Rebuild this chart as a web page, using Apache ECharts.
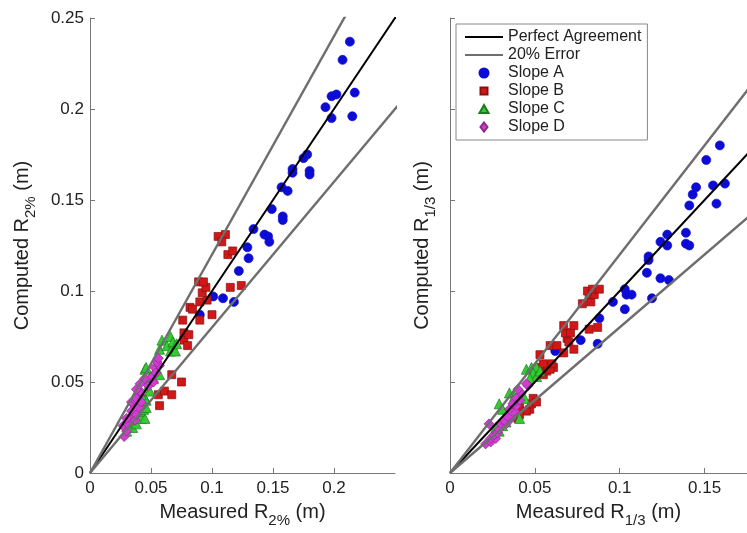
<!DOCTYPE html>
<html>
<head>
<meta charset="utf-8">
<script src="https://cdn.jsdelivr.net/npm/echarts@6/dist/echarts.min.js"></script>
<style>
html, body { margin: 0; padding: 0; background: #fff; }
#chart { width: 747px; height: 533px; }
</style>
</head>
<body>
<div id="chart"></div>
<script>
// measured vs computed run-up, [measured, computed] in m
// left panel: R2%
var slopeA_r2 = [
    [0.090,0.087],[0.101,0.097],[0.109,0.096],[0.118,0.094],[0.122,0.111],[0.130,0.118],[0.129,0.124],
    [0.134,0.134],[0.143,0.131],[0.146,0.130],[0.147,0.127],[0.149,0.145],[0.157,0.157],[0.162,0.155],
    [0.158,0.141],[0.158,0.139],[0.166,0.167],[0.166,0.165],[0.175,0.173],[0.178,0.175],[0.180,0.166],
    [0.180,0.164],[0.193,0.201],[0.198,0.207],[0.202,0.208],[0.198,0.195],[0.207,0.227],[0.213,0.237],
    [0.217,0.209],[0.215,0.196]
];
var slopeB_r2 = [
    [0.057,0.037],[0.056,0.043],[0.061,0.045],[0.067,0.043],[0.067,0.054],[0.075,0.050],[0.077,0.073],
    [0.080,0.070],[0.077,0.077],[0.081,0.076],[0.076,0.084],[0.090,0.084],[0.100,0.087],[0.082,0.091],
    [0.084,0.090],[0.090,0.094],[0.096,0.095],[0.092,0.099],[0.095,0.102],[0.089,0.105],[0.093,0.105],
    [0.115,0.102],[0.124,0.103],[0.113,0.120],[0.117,0.122],[0.105,0.130],[0.111,0.131],[0.108,0.127]
];
var slopeC_r2 = [
    [0.030,0.023],[0.035,0.025],[0.034,0.028],[0.038,0.027],[0.042,0.030],[0.045,0.030],[0.041,0.034],
    [0.044,0.035],[0.046,0.036],[0.046,0.040],[0.045,0.041],[0.038,0.044],[0.042,0.043],[0.047,0.047],
    [0.049,0.045],[0.049,0.052],[0.052,0.052],[0.045,0.057],[0.046,0.058],[0.053,0.056],[0.057,0.054],
    [0.057,0.068],[0.059,0.073],[0.063,0.070],[0.066,0.075],[0.068,0.072],[0.066,0.067],[0.070,0.067],
    [0.071,0.071]
];
var slopeD_r2 = [
    [0.028,0.020],[0.030,0.023],[0.027,0.026],[0.031,0.027],[0.033,0.030],[0.037,0.029],[0.030,0.030],
    [0.034,0.034],[0.038,0.032],[0.035,0.038],[0.040,0.036],[0.034,0.039],[0.037,0.040],[0.042,0.039],
    [0.041,0.043],[0.038,0.041],[0.041,0.045],[0.038,0.046],[0.041,0.049],[0.045,0.052],[0.048,0.048],
    [0.052,0.050],[0.051,0.053],[0.053,0.058],[0.054,0.055],[0.057,0.059],[0.055,0.061],[0.056,0.063]
];
// right panel: R1/3
var slopeA_r13 = [
    [0.062,0.067],[0.077,0.073],[0.087,0.071],[0.088,0.085],[0.096,0.094],[0.103,0.090],[0.103,0.101],
    [0.104,0.098],[0.107,0.098],[0.119,0.096],[0.116,0.110],[0.124,0.107],[0.129,0.106],[0.117,0.119],
    [0.117,0.117],[0.124,0.127],[0.128,0.125],[0.128,0.131],[0.139,0.132],[0.139,0.126],[0.141,0.125],
    [0.141,0.147],[0.143,0.153],[0.145,0.157],[0.151,0.172],[0.159,0.180],[0.155,0.158],[0.162,0.159],
    [0.157,0.148]
];
var slopeB_r13 = [
    [0.040,0.030],[0.041,0.036],[0.047,0.035],[0.045,0.034],[0.041,0.032],[0.048,0.038],[0.049,0.041],
    [0.051,0.039],[0.055,0.054],[0.057,0.056],[0.053,0.058],[0.057,0.059],[0.061,0.058],[0.059,0.057],
    [0.053,0.065],[0.055,0.060],[0.060,0.060],[0.059,0.070],[0.063,0.070],[0.067,0.066],[0.073,0.068],
    [0.069,0.074],[0.070,0.072],[0.068,0.077],[0.071,0.077],[0.067,0.081],[0.073,0.081],[0.082,0.079],
    [0.087,0.080],[0.078,0.093],[0.083,0.094],[0.082,0.098],[0.085,0.098],[0.081,0.100],[0.084,0.101],
    [0.088,0.101]
];
var slopeC_r13 = [
    [0.027,0.025],[0.029,0.023],[0.031,0.026],[0.033,0.028],[0.032,0.030],[0.041,0.030],[0.029,0.038],
    [0.031,0.035],[0.035,0.044],[0.038,0.042],[0.042,0.042],[0.044,0.041],[0.045,0.057],[0.048,0.058],
    [0.051,0.058],[0.049,0.055],[0.051,0.053],[0.047,0.052],[0.053,0.056]
];
var slopeD_r13 = [
    [0.021,0.016],[0.024,0.017],[0.024,0.019],[0.027,0.019],[0.026,0.021],[0.028,0.022],[0.029,0.024],
    [0.023,0.027],[0.030,0.027],[0.033,0.027],[0.032,0.029],[0.036,0.030],[0.034,0.031],[0.038,0.034],
    [0.035,0.035],[0.039,0.037],[0.037,0.038],[0.041,0.040],[0.039,0.041],[0.042,0.044],[0.040,0.046],
    [0.046,0.048],[0.045,0.049]
];

var xTicksLeft = [0, 0.05, 0.1, 0.15, 0.2];
var xTicksRight = [0, 0.05, 0.1, 0.15];
var yTicks = [0, 0.05, 0.1, 0.15, 0.2, 0.25];
var refEnds = [0, 0.3];          // 1:1 line end points (clipped by grid)
var errFactors = [1.2, 0.8];     // +/- 20 %

var FONT = 'Liberation Sans';
var chart = echarts.init(document.getElementById('chart'));

var nameStyle = {
    fontSize: 20, color: '#222', fontFamily: FONT,
    rich: { sub: { fontSize: 15, fontFamily: FONT, color: '#222', padding: [16, 0, 0, 0] } }
};

function xAxis(idx, max, ticks, name) {
    return {
        type: 'value', gridIndex: idx, min: 0, max: max, interval: 0.05,
        name: name, nameLocation: 'middle', nameGap: 24, nameTextStyle: nameStyle,
        axisLine: { lineStyle: { color: '#777' } },
        axisTick: { inside: true, length: 5, customValues: ticks, lineStyle: { color: '#777' } },
        axisLabel: { customValues: ticks, fontSize: 17, color: '#222', fontFamily: FONT, margin: 7 },
        splitLine: { show: false }
    };
}
function yAxis(idx, showLabel, name, gap) {
    return {
        type: 'value', gridIndex: idx, min: 0, max: 0.25, interval: 0.05,
        name: name, nameLocation: 'middle', nameGap: gap, nameTextStyle: nameStyle,
        axisLine: { show: true, lineStyle: { color: '#777' } },
        axisTick: { show: true, inside: true, length: 5, customValues: yTicks, lineStyle: { color: '#777' } },
        axisLabel: { show: showLabel, customValues: yTicks, fontSize: 17, color: '#222', fontFamily: FONT, margin: 6 },
        splitLine: { show: false }
    };
}

function refLine(idx, factor, name, style) {
    return {
        name: name, type: 'line', xAxisIndex: idx, yAxisIndex: idx,
        data: refEnds.map(function (x) { return [x, x * factor]; }),
        symbol: 'none', clip: true, silent: true,
        itemStyle: { color: style.color },
        lineStyle: style
    };
}
var perfectStyle = { color: '#000', width: 2 };
var errStyle = { color: '#6e6e6e', width: 2.4 };

// legend icons: invisible moveTo corners keep the 38x9 box so the shape is not stretched
var marks = [
    { name: 'Slope A', symbol: 'circle', size: 9, color: '#0c0cd4', border: '#0c0cd4',
      icon: 'circle' },
    { name: 'Slope B', symbol: 'rect', size: 8, color: '#d01818', border: '#8a1010',
      icon: 'path://M0,0M38,9M15.5,1h7v7h-7z' },
    { name: 'Slope C', symbol: 'triangle', size: 10, color: '#33cc33', border: '#1c7a1c',
      icon: 'path://M0,0M38,9M19,0.5L23.5,8.5L14.5,8.5z' },
    { name: 'Slope D', symbol: 'diamond', size: 10, color: '#d23cd2', border: '#8c2a8c',
      icon: 'path://M0,0M38,9M19,0L22.5,4.5L19,9L15.5,4.5z' }
];
var leftData = [slopeA_r2, slopeB_r2, slopeC_r2, slopeD_r2];
var rightData = [slopeA_r13, slopeB_r13, slopeC_r13, slopeD_r13];

var series = [];
[leftData, rightData].forEach(function (set, idx) {
    set.forEach(function (pts, i) {
        var m = marks[i];
        series.push({
            name: m.name, type: 'scatter', xAxisIndex: idx, yAxisIndex: idx,
            symbol: m.symbol, symbolSize: m.size, data: pts,
            itemStyle: { color: m.color, borderColor: m.border, borderWidth: 0.7, opacity: 1 }
        });
    });
    series.push(refLine(idx, 1, 'Perfect Agreement', perfectStyle));
    errFactors.forEach(function (f) {
        series.push(refLine(idx, f, '20% Error', errStyle));
    });
});

var legendData = [
    { name: 'Perfect Agreement', itemStyle: { opacity: 0 } },
    { name: '20% Error', itemStyle: { opacity: 0 } }
].concat(marks.map(function (m) { return { name: m.name, icon: m.icon }; }));

var option = {
    backgroundColor: '#fff',
    animation: false,
    textStyle: { fontFamily: FONT },
    grid: [
        { left: 90, top: 18, width: 305, height: 461 },
        { left: 450, top: 18, width: 297, height: 461 }
    ],
    xAxis: [
        xAxis(0, 0.25, xTicksLeft, 'Measured R{sub|2%} (m)'),
        xAxis(1, 0.175, xTicksRight, 'Measured R{sub|1/3} (m)')
    ],
    yAxis: [
        yAxis(0, true, 'Computed R{sub|2%} (m)', 52),
        yAxis(1, false, 'Computed R{sub|1/3} (m)', 12)
    ],
    legend: {
        orient: 'vertical', left: 456, top: 24,
        padding: [5, 6, 5, 8],
        backgroundColor: '#fff', borderColor: '#888', borderWidth: 1,
        itemWidth: 38, itemHeight: 9, itemGap: 2,
        textStyle: { fontSize: 16, color: '#222', fontFamily: FONT },
        data: legendData
    },
    series: series
};
chart.setOption(option);
</script>
</body>
</html>
